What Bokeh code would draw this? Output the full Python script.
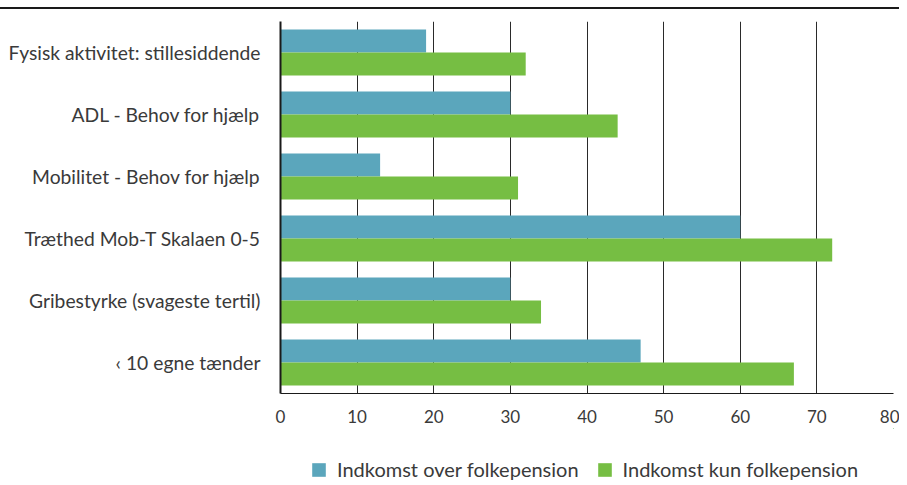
from bokeh.plotting import figure
from bokeh.models import ColumnDataSource, Legend, LegendItem, FactorRange, FixedTicker, Range1d, Div
from bokeh.transform import dodge
from bokeh.layouts import column
from bokeh.embed import file_html
from bokeh.resources import INLINE

categories = ["Fysisk aktivitet: stillesiddende", "ADL - Behov for hjælp",
              "Mobilitet - Behov for hjælp", "Træthed Mob-T Skalaen 0-5",
              "Gribestyrke (svageste tertil)", "‹ 10 egne tænder"]
over = [19, 30, 13, 60, 30, 47]
kun = [32, 44, 31, 72, 34, 67]
series_names = ["Indkomst over folkepension", "Indkomst kun folkepension"]
x_ticks = [0, 10, 20, 30, 40, 50, 60, 70, 80]

BLUE = "#5ba6bc"
GREEN = "#76be43"
TXT = "#3a3a3a"
FONT = "Lato"

src = ColumnDataSource(dict(cat=categories, over=over, kun=kun))

p = figure(width=899, height=419, y_range=FactorRange(*list(reversed(categories))),
           x_range=(0, 80), output_backend="svg", toolbar_location=None,
           min_border_left=280, min_border_right=6, min_border_top=12, min_border_bottom=35)
p.outline_line_color = None

r1 = p.hbar(y=dodge("cat", 0.185, range=p.y_range), right="over", left=0, height=0.37,
            source=src, color=BLUE, line_color=None)
r2 = p.hbar(y=dodge("cat", -0.185, range=p.y_range), right="kun", left=0, height=0.37,
            source=src, color=GREEN, line_color=None)

p.xaxis.ticker = FixedTicker(ticks=x_ticks)
p.xgrid.grid_line_color = "#2a2a2a"
p.xgrid.grid_line_width = 1
p.ygrid.grid_line_color = None

for ax in (p.xaxis[0], p.yaxis[0]):
    ax.axis_line_color = "#1a1a1a"
    ax.major_tick_line_color = None
    ax.minor_tick_line_color = None
    ax.major_label_text_font = FONT
    ax.major_label_text_color = TXT
p.yaxis.major_label_text_font_size = "19.3px"
p.xaxis.major_label_text_font_size = "17px"
p.yaxis.axis_line_width = 2
p.xaxis.axis_line_width = 1
p.yaxis.major_label_standoff = 14
p.xaxis.major_label_standoff = 10

# legend strip below the chart (its frame is aligned with the chart's frame)
lg = figure(width=899, height=53, x_range=Range1d(0, 1), y_range=Range1d(0, 1),
            output_backend="svg", toolbar_location=None,
            x_axis_type=None, y_axis_type=None, min_border=0)
lg.outline_line_color = None
lg.grid.visible = False
# zero-size keys (outside the strip's range) that only give the legend its swatches
k1 = lg.hbar(y="over", right="over", left="over", height=0, source=src,
             color=BLUE, line_color=None)
k2 = lg.hbar(y="kun", right="kun", left="kun", height=0, source=src,
             color=GREEN, line_color=None)

legend = Legend(items=[LegendItem(label=series_names[0], renderers=[k1]),
                       LegendItem(label=series_names[1], renderers=[k2])],
                orientation="horizontal", location=(30, 0))
legend.label_text_font = FONT
legend.label_text_font_size = "20px"
legend.label_text_color = TXT
legend.glyph_width = 17
legend.glyph_height = 17
legend.label_standoff = 10
legend.spacing = 17
legend.padding = 0
legend.margin = 0
legend.border_line_color = None
legend.background_fill_alpha = 0
lg.add_layout(legend, "center")

top_line = Div(text="", width=899, height=9, margin=0,
               styles={"border-bottom": "2px solid #1a1a1a"})

layout = column(top_line, p, lg, spacing=0)

open("out.html", "w").write(file_html(layout, INLINE))
